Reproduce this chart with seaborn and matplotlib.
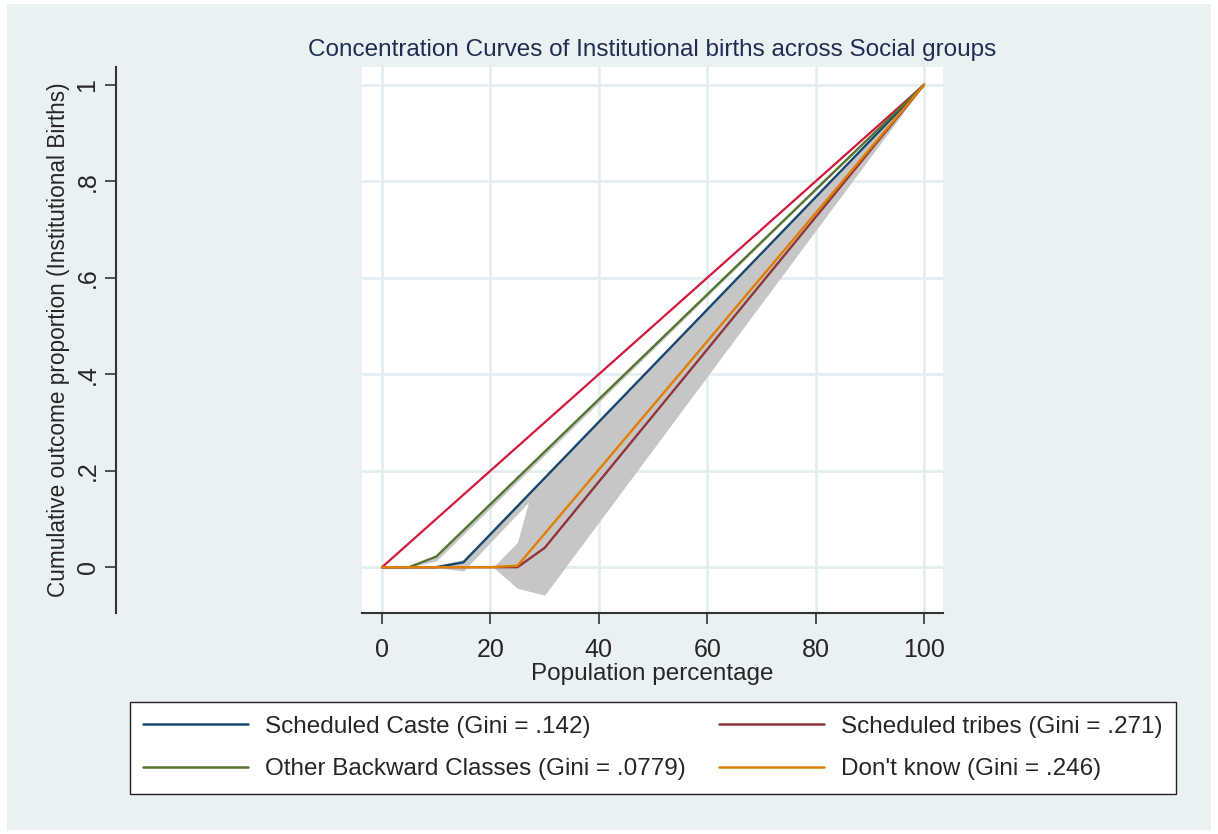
import numpy as np
import pandas as pd
import matplotlib
matplotlib.use("Agg")
import matplotlib.pyplot as plt
from matplotlib.lines import Line2D
from matplotlib.patches import Rectangle
import seaborn as sns

# curve vertices (population %, cumulative outcome share)
equality_x = [0, 100]
equality_y = [0, 1]

sc_x = [0, 10, 15, 100]
sc_y = [0, 0, 0.010, 1]
st_x = [0, 25, 30, 100]
st_y = [0, 0, 0.040, 1]
obc_x = [0, 5, 10, 100]
obc_y = [0, 0, 0.022, 1]
dk_x = [0, 20, 25, 100]
dk_y = [0, 0, 0.003, 1]

# grey confidence shading
band_x = [20.5, 25, 27.5, 30, 100]
band_lo = [0, -0.044, -0.051, -0.058, 1]
band_hi = [0, 0.052, 0.155, 0.185, 1]
sc_band_x = [10, 15, 100]
sc_band_lo = [0, -0.008, 1]
sc_band_hi = [0.003, 0.016, 1]
obc_band_x = [5, 10, 100]
obc_band_lo = [0, 0.013, 1]
obc_band_hi = [0, 0.022, 1]

groups = ["Scheduled Caste", "Other Backward Classes", "Scheduled tribes", "Don't know"]
legend_labels = ["Scheduled Caste (Gini = .142)",
                 "Other Backward Classes (Gini = .0779)",
                 "Scheduled tribes (Gini = .271)",
                 "Don't know (Gini = .246)"]
colors = {"Scheduled Caste": "#1A476F",
          "Other Backward Classes": "#55752F",
          "Scheduled tribes": "#90353B",
          "Don't know": "#E37E00"}
equality_color = "#D4163C"
bg = "#EAF1F3"

xticks = [0, 20, 40, 60, 80, 100]
yticks = [0, 0.2, 0.4, 0.6, 0.8, 1]
yticklabels = ["0", ".2", ".4", ".6", ".8", "1"]

sns.set_style("white")
plt.rcParams['font.family'] = ['Liberation Sans', 'DejaVu Sans']

# long table for seaborn
series = {"Scheduled Caste": (sc_x, sc_y),
          "Other Backward Classes": (obc_x, obc_y),
          "Scheduled tribes": (st_x, st_y),
          "Don't know": (dk_x, dk_y)}
rows = []
for g, (xs, ys) in series.items():
    for a, b in zip(xs, ys):
        rows.append({"group": g, "pop": a, "share": b})
df = pd.DataFrame(rows)
eq_df = pd.DataFrame({"pop": equality_x, "share": equality_y})

fig = plt.figure(figsize=(12.18, 8.34), dpi=100, facecolor="white")
fig.add_artist(Rectangle((0.006, 0.005), 0.988, 0.99, transform=fig.transFigure,
                         facecolor=bg, edgecolor="none", zorder=-10))
ax = fig.add_axes([362 / 1218, 1 - 613 / 834, 581 / 1218, 546 / 834])
ax.set_facecolor("white")

ax.fill_between(band_x, band_lo, band_hi, color="#C6C6C6", lw=0, zorder=1)
ax.fill_between(sc_band_x, sc_band_lo, sc_band_hi, color="#C6C6C6", lw=0, zorder=1)
ax.fill_between(obc_band_x, obc_band_lo, obc_band_hi, color="#C6C6C6", lw=0, zorder=1)

sns.lineplot(data=eq_df, x="pop", y="share", color=equality_color, linewidth=1.6,
             sort=False, estimator=None, ax=ax, zorder=2)
for g in groups:
    sns.lineplot(data=df[df["group"] == g], x="pop", y="share", color=colors[g],
                 linewidth=1.7, sort=False, estimator=None, ax=ax, zorder=3)

ax.set_xlim(-3.7, 103.5)
ax.set_ylim(-0.095, 1.037)
ax.set_xticks(xticks)
ax.set_xticklabels([str(t) for t in xticks])
ax.set_yticks(yticks)
ax.set_yticklabels(yticklabels)
ax.grid(True, color="#E4EEF0", linewidth=2)
ax.set_axisbelow(True)

for s in ["top", "right"]:
    ax.spines[s].set_visible(False)
ax.spines["left"].set_position(("outward", 177))
ax.spines["left"].set_color("#333333")
ax.spines["left"].set_linewidth(1.5)
ax.spines["bottom"].set_color("#333333")
ax.spines["bottom"].set_linewidth(1.5)

ax.tick_params(axis="y", direction="out", length=8, width=1.2, color="#333333",
               labelsize=18, labelrotation=90, pad=4, left=True)
ax.tick_params(axis="x", direction="out", length=8, width=1.2, color="#333333",
               labelsize=18, pad=10, bottom=True)
for lab in ax.get_yticklabels():
    lab.set_va("center")

ax.set_xlabel("Population percentage", fontsize=17.5, labelpad=1)
ax.set_ylabel("Cumulative outcome proportion (Institutional Births)", fontsize=16.3, labelpad=4)
ax.set_title("Concentration Curves of Institutional births across Social groups",
             fontsize=17.5, color="#1F2D52", pad=8)

handles = [Line2D([], [], color=colors[g], lw=1.8) for g in groups]
leg = fig.legend(handles, legend_labels, ncol=2, loc="center",
                 bbox_to_anchor=(653 / 1218, 1 - 748 / 834), fontsize=17.5,
                 frameon=True, fancybox=False, edgecolor="#222222", framealpha=1,
                 handlelength=4.3, handletextpad=0.73, columnspacing=1.35,
                 labelspacing=0.85, borderpad=0.55, borderaxespad=0)
leg.get_frame().set_linewidth(1.0)
leg.get_frame().set_facecolor("white")

fig.savefig("out.png", dpi=100, facecolor=fig.get_facecolor())
